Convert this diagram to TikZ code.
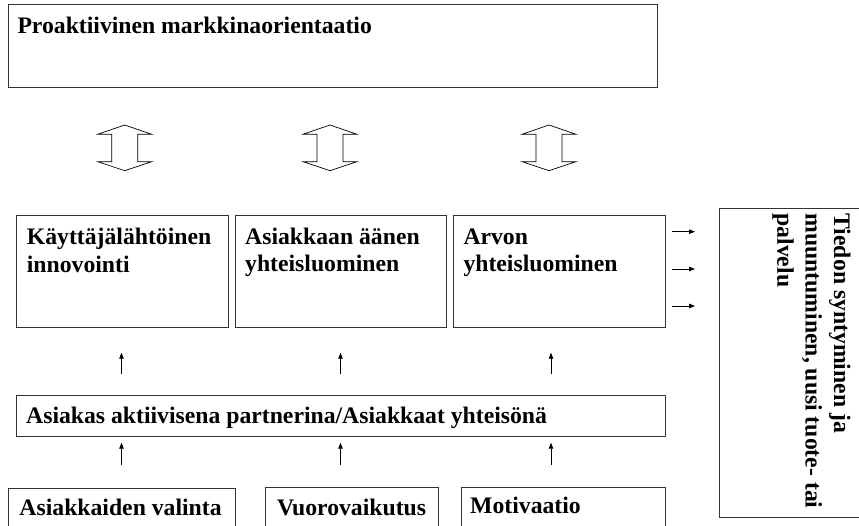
\documentclass[tikz,border=0pt]{standalone}
\usepackage{fontspec}
\setmainfont{Liberation Serif}
\usetikzlibrary{arrows.meta}
\newcommand{\txtlines}[1]{\begin{tabular}[t]{@{}l@{}}#1\end{tabular}}
\newcommand{\dblarrow}[2]{%
  \draw[dblarr] (#2) ++(0,0) -- ++(27,9.3) -- ++(-14,0) -- ++(0,27.4) -- ++(14,0)
    -- ++(-27,9) -- ++(-27,-9) -- ++(14,0) -- ++(0,-27.4) -- ++(-14,0) -- cycle;}
\begin{document}
\begin{tikzpicture}[x=1pt,y=-1pt,
  font=\bfseries\fontsize{23.7}{27.3}\selectfont,
  box/.style={draw=black!80, line width=0.8pt, inner sep=0pt, anchor=north west},
  lbl/.style={anchor=base west, inner sep=0pt},
  arr/.style={-{Triangle[length=6pt,width=4.5pt]}, line width=0.8pt},
  dblarr/.style={draw=black, line width=0.7pt}]
\useasboundingbox (0,0) rectangle (859,526);
\clip (0,0) rectangle (859,526);

% boxes
\node[box, minimum width=649pt, minimum height=83pt] (top) at (8,4) {};
\node[box, minimum width=211.5pt, minimum height=112.3pt] (m1) at (16,215) {};
\node[box, minimum width=210.5pt, minimum height=112.3pt] (m2) at (235,215) {};
\node[box, minimum width=211.7pt, minimum height=112.3pt] (m3) at (453.3,215) {};
\node[box, minimum width=649.3pt, minimum height=40.2pt] (wide) at (15.7,395.3) {};
\node[box, minimum width=226.7pt, minimum height=45pt] (b1) at (8.3,488.3) {};
\node[box, minimum width=173.3pt, minimum height=46pt] (b2) at (265,486.7) {};
\node[box, minimum width=204pt, minimum height=46pt] (b3) at (461,486.7) {};
\node[box, minimum width=150pt, minimum height=309pt] (res) at (718.5,208.3) {};

% texts
\node[lbl] (ttop) at (17.3,33.3) {Proaktiivinen markkinaorientaatio};
\node[lbl] (tm1) at (26.7,245) {\txtlines{Käyttäjälähtöinen\\innovointi}};
\node[lbl] (tm2) at (245,244.3) {\txtlines{Asiakkaan äänen\\yhteisluominen}};
\node[lbl] (tm3) at (463.3,244.3) {\txtlines{Arvon\\yhteisluominen}};
\node[lbl] (twide) at (26,423.3) {Asiakas aktiivisena partnerina/Asiakkaat yhteisönä};
\node[lbl] (tb1) at (19.3,515) {Asiakkaiden valinta};
\node[lbl] (tb2) at (277,515) {Vuorovaikutus};
\node[lbl] (tb3) at (470,513) {Motivaatio};
\node[lbl, rotate=-90, font=\bfseries\fontsize{23.7}{28.3}\selectfont] (tres) at (834,213.3)
  {\txtlines{Tiedon syntyminen ja\\muuntuminen, uusi tuote- tai\\palvelu}};

% double arrows between top box and middle boxes
\coordinate (d1) at (124.7,125);
\coordinate (d2) at (330,125);
\coordinate (d3) at (549,125);
\dblarrow{1}{d1}
\dblarrow{2}{d2}
\dblarrow{3}{d3}

% up arrows: wide box -> middle boxes
\foreach \n/\x in {1/121.5,2/340.5,3/551}{
  \coordinate (ua\n) at (\x,374.3);
  \coordinate (ub\n) at (\x,352.7);
  \draw[arr] (ua\n) -- (ub\n);
  \coordinate (la\n) at (\x,465);
  \coordinate (lb\n) at (\x,442.7);
  \draw[arr] (la\n) -- (lb\n);
}

% right arrows: middle row -> result box
\foreach \n/\y in {1/231.7,2/269,3/306}{
  \coordinate (ra\n) at (672,\y);
  \coordinate (rb\n) at (695,\y);
  \draw[arr] (ra\n) -- (rb\n);
}
\end{tikzpicture}
\end{document}
